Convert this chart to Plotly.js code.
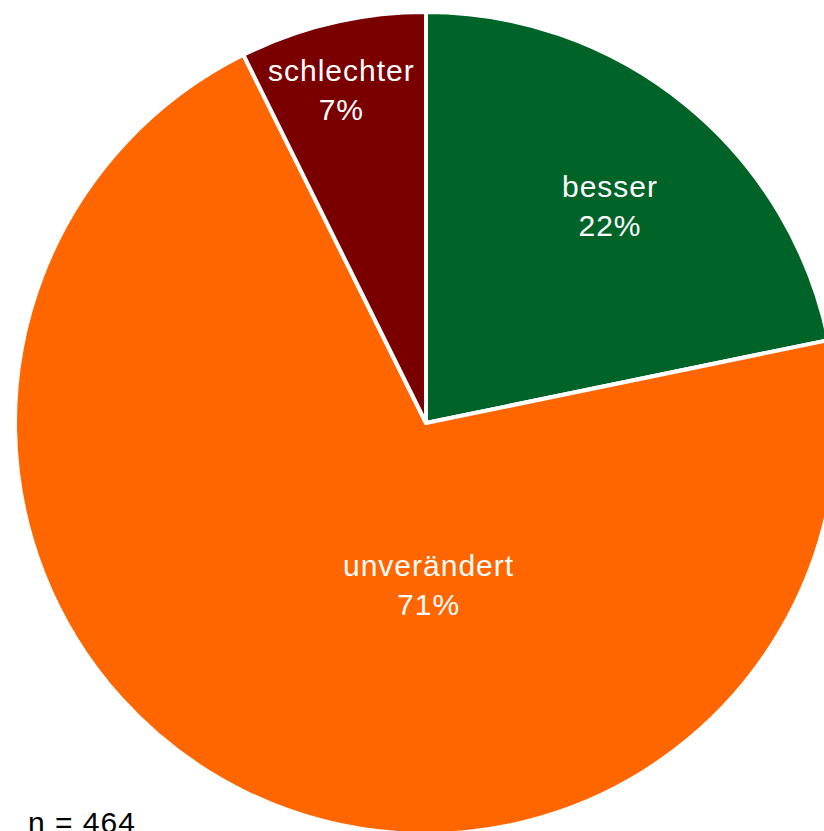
<!DOCTYPE html>
<html>
<head>
<meta charset="utf-8">
<script src="https://cdn.plot.ly/plotly-3.0.1.min.js"></script>
<style>
html, body { margin:0; padding:0; overflow:hidden; background:#fff; width:824px; height:831px; }
#chart { position:absolute; left:0; top:0; width:860px; height:860px; }
.annotation-text { letter-spacing: 1px; }
</style>
</head>
<body>
<div id="chart"></div>
<script>
const categories = ["besser", "unverändert", "schlechter"];
const counts = [101, 329, 34];
const colors = ["#006428", "#FF6600", "#7A0000"];
const sampleNote = "n = 464";

// label placement (pixel positions of label centres in the page), kept apart from the data
const labelPositions = [[610, 206], [428, 585], [341, 90]];

const W = 860, H = 860;
const FONT = "Liberation Sans, Arial, Helvetica, sans-serif";
const total = counts.reduce((a, b) => a + b, 0);

const trace = {
  type: "pie",
  labels: categories,
  values: counts,
  sort: false,
  direction: "clockwise",
  rotation: 0,
  marker: { colors: colors, line: { color: "#ffffff", width: 4 } },
  textinfo: "none",
  hoverinfo: "skip",
  showlegend: false,
  domain: { x: [15 / W, 837 / W], y: [(H - 834) / H, (H - 12) / H] }
};

const annotations = categories.map((c, i) => ({
  text: c + "<br>" + Math.round(100 * counts[i] / total) + "%",
  xref: "paper", yref: "paper",
  x: labelPositions[i][0] / W, y: (H - labelPositions[i][1]) / H,
  xanchor: "center", yanchor: "middle", align: "center",
  showarrow: false,
  font: { family: FONT, size: 30, color: "#ffffff" }
}));

annotations.push({
  text: sampleNote, xref: "paper", yref: "paper",
  x: 26 / W, y: (H - 822) / H, xanchor: "left", yanchor: "middle",
  showarrow: false, font: { family: FONT, size: 30, color: "#000000" }
});

const layout = {
  width: W, height: H,
  margin: { l: 0, r: 0, t: 0, b: 0 },
  paper_bgcolor: "#ffffff",
  showlegend: false,
  font: { family: FONT, color: "#000000" },
  annotations: annotations
};

Plotly.newPlot("chart", [trace], layout, { displayModeBar: false, staticPlot: true });
</script>
</body>
</html>
